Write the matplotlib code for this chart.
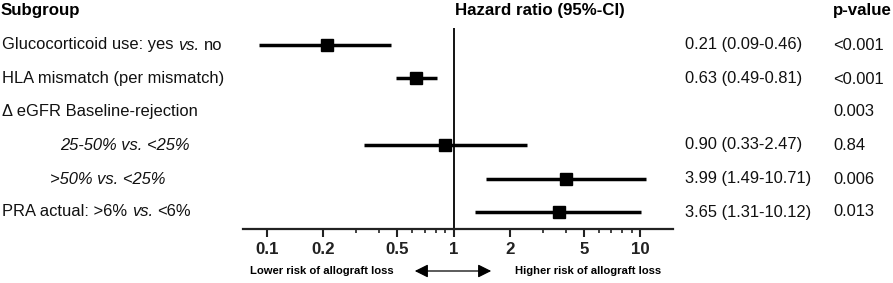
import matplotlib
matplotlib.use("Agg")
import matplotlib.pyplot as plt
from matplotlib.ticker import FixedLocator, NullFormatter
from matplotlib.patches import FancyArrowPatch

plt.rcParams['font.family'] = ['Liberation Sans', 'DejaVu Sans']

# each label is a list of (text, style) pieces separated by single spaces
labels = [[("Glucocorticoid use: yes", 'normal'), ("vs.", 'italic'), ("no", 'normal')],
          [("HLA mismatch (per mismatch)", 'normal')],
          [("\u0394 eGFR Baseline-rejection", 'normal')],
          [("25-50% vs. <25%", 'italic')],
          [(">50% vs. <25%", 'italic')],
          [("PRA actual: >6%", 'normal'), ("vs.", 'italic'), ("<6%", 'normal')]]
hr = [0.21, 0.63, None, 0.90, 3.99, 3.65]
lo = [0.09, 0.49, None, 0.33, 1.49, 1.31]
hi = [0.46, 0.81, None, 2.47, 10.71, 10.12]
hr_text = ["0.21 (0.09-0.46)", "0.63 (0.49-0.81)", "", "0.90 (0.33-2.47)",
           "3.99 (1.49-10.71)", "3.65 (1.31-10.12)"]
pvals = ["<0.001", "<0.001", "0.003", "0.84", "0.006", "0.013"]
major_ticks = [0.1, 0.2, 0.5, 1, 2, 5, 10]
tick_labels = ["0.1", "0.2", "0.5", "1", "2", "5", "10"]
minor_ticks = [0.3, 0.4, 0.6, 0.7, 0.8, 0.9, 3, 4, 6, 7, 8, 9]

W, H = 893, 283
fig = plt.figure(figsize=(W/100, H/100), dpi=100)
renderer = fig.canvas.get_renderer()

def fx(x): return x / W
def fy(y): return 1 - y / H

FS = 11.9
TXT = '#111111'

# axes: pixel x 243..673, y 28..229
ax = fig.add_axes([fx(243), fy(229), (673-243)/W, (229-28)/H])
ax.set_xscale('log')
ax.set_xlim(0.0743, 15.0)
ax.set_ylim(5.51, -0.51)
for s in ['top', 'right', 'left']:
    ax.spines[s].set_visible(False)
ax.spines['bottom'].set_linewidth(1.6)
ax.spines['bottom'].set_color('#222222')
ax.set_yticks([])
ax.xaxis.set_major_locator(FixedLocator(major_ticks))
ax.set_xticklabels(tick_labels)
ax.xaxis.set_minor_locator(FixedLocator(minor_ticks))
ax.xaxis.set_minor_formatter(NullFormatter())
ax.tick_params(axis='x', which='major', length=5.5, width=1.5, direction='out',
               labelsize=12.2, pad=3.5, colors='#222222')
ax.tick_params(axis='x', which='minor', length=3, width=1.2, direction='out',
               colors='#222222')
for t in ax.get_xticklabels():
    t.set_fontweight('bold')
ax.axvline(1, color='black', lw=1.3)

for i in range(len(labels)):
    if hr[i] is None:
        continue
    ax.plot([lo[i], hi[i]], [i, i], color='black', lw=2.5, solid_capstyle='butt')
    ax.plot([hr[i]], [i], marker='s', color='black', markersize=8)

# width of a space in the label font
t1 = fig.text(0, 0, "a a", fontsize=FS)
t2 = fig.text(0, 0, "aa", fontsize=FS)
space_w = t1.get_window_extent(renderer).width - t2.get_window_extent(renderer).width
t1.remove(); t2.remove()

row_y = [45, 79, 112, 145, 179, 212]
label_x = [2, 2, 2, 60, 50, 2]
for i, parts in enumerate(labels):
    xp = label_x[i]
    for txt, st in parts:
        t = fig.text(fx(xp), fy(row_y[i]), txt, fontsize=FS, va='center', ha='left',
                     style=st, color=TXT)
        xp += t.get_window_extent(renderer).width + space_w
    if hr_text[i]:
        fig.text(fx(685), fy(row_y[i]), hr_text[i], fontsize=FS, va='center', ha='left',
                 color=TXT)
    fig.text(fx(833), fy(row_y[i]), pvals[i], fontsize=FS, va='center', ha='left',
             color=TXT)

HS = 12.2
fig.text(fx(1), fy(11), "Subgroup", fontsize=HS, fontweight='bold', va='center', ha='left')
fig.text(fx(455), fy(11), "Hazard ratio (95%-CI)", fontsize=HS, fontweight='bold',
         va='center', ha='left')
fig.text(fx(833), fy(11), "p-value", fontsize=HS, fontweight='bold', va='center', ha='left')

fig.text(fx(250), fy(271), "Lower risk of allograft loss", fontsize=8.1, fontweight='bold',
         va='center', ha='left')
fig.text(fx(515), fy(271), "Higher risk of allograft loss", fontsize=8.1, fontweight='bold',
         va='center', ha='left')
arr = FancyArrowPatch((fx(412), fy(271)), (fx(494), fy(271)), transform=fig.transFigure,
                      arrowstyle='<|-|>,head_length=5,head_width=2.5', lw=0.9, color='black',
                      mutation_scale=1.6)
fig.patches.append(arr)

fig.savefig("out.png", dpi=100)
